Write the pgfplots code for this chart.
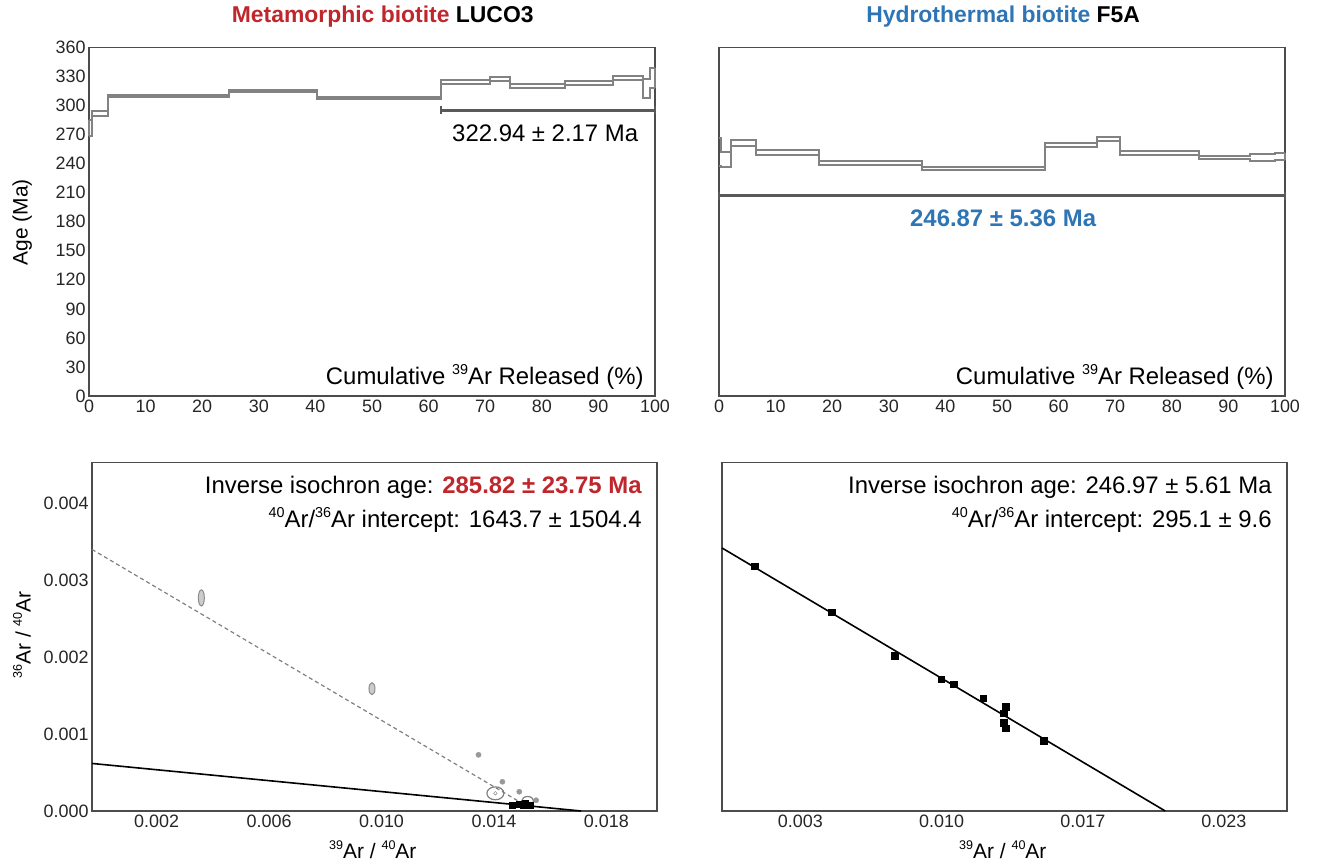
\documentclass[border=0pt]{standalone}
\usepackage{fontspec}
\setmainfont{Liberation Sans}
\usepackage{pgfplots}
\pgfplotsset{compat=1.18}
\definecolor{tred}{RGB}{192,39,45}
\definecolor{tblue}{RGB}{46,117,182}
\definecolor{stepgray}{RGB}{130,130,130}
\newcommand{\tickfont}{\fontsize{18}{20}\selectfont}
\newcommand{\bigfont}{\fontsize{24}{26}\selectfont}
\newcommand{\titlefont}{\fontsize{23}{25}\selectfont\bfseries}
\newcommand{\labfont}{\fontsize{21}{23}\selectfont}
\newcommand{\sups}[1]{\raisebox{0.42em}{\scalebox{0.6}{#1}}}
\pgfplotsset{
  panel/.style={
    scale only axis, anchor=south west,
    axis line style={draw=black!70, line width=1.4bp},
    major tick length=0pt,
    ticklabel style={font=\tickfont, text=black!85},
    /pgf/number format/assume math mode=true,
    scaled ticks=false,
    clip=false,
  },
  steps/.style={stepgray, line width=2bp, const plot mark left, no marks},
}
\begin{document}
\begin{tikzpicture}
% ---------------- top left ----------------
\begin{axis}[panel, at={(89bp,469bp)}, width=566bp, height=348.5bp,
  xmin=0,xmax=100,ymin=0,ymax=360,
  xtick={0,10,...,100}, ytick={0,30,...,360}]
\addplot[steps] coordinates {(0,285) (0.6,294.5) (3.4,311) (24.8,316.3) (40.2,308.5) (62.2,326) (70.8,330) (74.4,322.5) (84.1,325) (92.6,330.5) (97.9,327) (99.2,339) (100,339)};
\addplot[steps] coordinates {(0,269) (0.6,289) (3.4,309) (24.8,314) (40.2,306.8) (62.2,322) (70.8,325.5) (74.4,318.6) (84.1,321) (92.6,326) (97.9,308) (99.2,318) (100,318)};
\addplot[stepgray, line width=2bp] coordinates {(0,269) (0,285)};
\addplot[stepgray, line width=2bp] coordinates {(100,318) (100,339)};
\addplot[black!65, line width=2.5bp, mark=|, mark size=4bp, mark options={line width=2bp}] coordinates {(62.2,295) (100,295)};
\node[font=\bigfont] at (rel axis cs:0.806,0.755) {322.94 ± 2.17 Ma};
\node[font=\bigfont, anchor=east] at (rel axis cs:0.986,0.0545) {Cumulative \sups{39}Ar Released (\%)};
\node[font=\titlefont] at (rel axis cs:0.519,1.0875) {\textcolor{tred}{Metamorphic biotite} LUCO3};
\node[font=\labfont, rotate=90] at (rel axis cs:-0.118,0.499) {Age (Ma)};
\end{axis}
% ---------------- top right ----------------
\begin{axis}[panel, at={(719bp,469bp)}, width=566bp, height=348.5bp,
  xmin=0,xmax=100,ymin=0,ymax=360,
  xtick={0,10,...,100}, ytick=\empty]
\addplot[steps] coordinates {(0,266) (0.3,252) (2.2,264.3) (6.5,254) (17.7,242.7) (35.9,236.5) (57.6,260.9) (66.7,267.8) (70.9,252.7) (84.8,247.8) (93.8,249.6) (98.2,251.3) (100,251.3)};
\addplot[steps] coordinates {(0,238) (0.3,237) (2.2,258) (6.5,248.6) (17.7,238.6) (35.9,233.5) (57.6,256.8) (66.7,263) (70.9,249.3) (84.8,244.4) (93.8,242.7) (98.2,243.7) (100,243.7)};
\addplot[stepgray, line width=2bp] coordinates {(100,243.7) (100,251.3)};
\addplot[black!65, line width=2.5bp, mark=|, mark size=4bp, mark options={line width=2bp}] coordinates {(0,207) (100,207)};
\node[font=\bigfont\bfseries, text=tblue] at (rel axis cs:0.502,0.511) {246.87 ± 5.36 Ma};
\node[font=\bigfont, anchor=east] at (rel axis cs:0.986,0.0545) {Cumulative \sups{39}Ar Released (\%)};
\node[font=\titlefont] at (rel axis cs:0.502,1.0875) {\textcolor{tblue}{Hydrothermal biotite} F5A};
\end{axis}
% ---------------- bottom left ----------------
\begin{axis}[panel, at={(92bp,54bp)}, width=565bp, height=348.5bp,
  xmin=-0.0003,xmax=0.0198,ymin=0,ymax=0.00453,
  xtick={0.002,0.006,0.010,0.014,0.018}, xticklabels={0.002,0.006,0.010,0.014,0.018},
  ytick={0,0.001,0.002,0.003,0.004}, yticklabels={0.000,0.001,0.002,0.003,0.004}]
\addplot[gray, dashed, dash pattern=on 4bp off 3bp, line width=1.2bp] coordinates {(-0.0003,0.0034) (0.0150,0.0001)};
\addplot[black, line width=1.6bp] coordinates {(-0.0003,0.000618) (0.0171,0)};
\addplot[only marks, mark=*, mark size=3bp, mark options={draw=gray!90, fill=gray!40, line width=1bp, yscale=2.7}] coordinates {(0.00359,0.00277)};
\addplot[only marks, mark=*, mark size=3bp, mark options={draw=gray!90, fill=gray!40, line width=1bp, yscale=2.0}] coordinates {(0.00966,0.00159)};
\addplot[only marks, mark=o, mark size=8.5bp, mark options={draw=gray, line width=1.2bp, yscale=0.76}] coordinates {(0.01405,0.00023)};
\addplot[only marks, mark=o, mark size=1.8bp, mark options={draw=gray}] coordinates {(0.01405,0.00023)};
\addplot[only marks, mark=o, mark size=6bp, mark options={draw=gray, line width=1.2bp, yscale=0.75}] coordinates {(0.0152,0.00013)};
\addplot[only marks, mark=*, mark size=2.6bp, mark options={draw=gray!80, fill=gray!80}] coordinates {(0.01345,0.00073) (0.0143,0.00038) (0.0149,0.00025) (0.0155,0.00014)};
\addplot[only marks, mark=square*, mark size=3bp, mark options={black}] coordinates {(0.01465,0.00008) (0.0149,0.00009) (0.01505,0.00007) (0.0151,0.0001) (0.0153,0.00007)};
\node[font=\bigfont, anchor=east] at (rel axis cs:0.979,0.930) {Inverse isochron age: \textcolor{tred}{\bfseries 285.82 ± 23.75 Ma}};
\node[font=\bigfont, anchor=east] at (rel axis cs:0.979,0.835) {\sups{40}Ar/\sups{36}Ar intercept: 1643.7 ± 1504.4};
\node[font=\labfont, rotate=90] at (rel axis cs:-0.124,0.505) {\sups{36}Ar / \sups{40}Ar};
\node[font=\labfont] at (rel axis cs:0.497,-0.112) {\sups{39}Ar / \sups{40}Ar};
\end{axis}
% ---------------- bottom right ----------------
\begin{axis}[panel, at={(722bp,54bp)}, width=565bp, height=348.5bp,
  xmin=-0.00037,xmax=0.02631,ymin=0,ymax=0.00453,
  xtick={0.00333,0.01,0.01667,0.02333}, xticklabels={0.003,0.010,0.017,0.023},
  ytick=\empty]
\addplot[black, line width=1.6bp] coordinates {(-0.00037,0.003419) (0.02056,0)};
\addplot[only marks, mark=square*, mark size=3.3bp, mark options={black}] coordinates {
 (0.00117,0.00318) (0.00480,0.002586) (0.00778,0.002017) (0.00998,0.001714) (0.01056,0.001649)
 (0.01197,0.001466) (0.01303,0.001358) (0.01294,0.001271) (0.01294,0.00115) (0.01303,0.001076) (0.01483,0.000915)};
\node[font=\bigfont, anchor=east] at (rel axis cs:0.979,0.930) {Inverse isochron age: 246.97 ± 5.61 Ma};
\node[font=\bigfont, anchor=east] at (rel axis cs:0.979,0.835) {\sups{40}Ar/\sups{36}Ar intercept: 295.1 ± 9.6};
\node[font=\labfont] at (rel axis cs:0.497,-0.112) {\sups{39}Ar / \sups{40}Ar};
\end{axis}
\pgfresetboundingbox
\path[use as bounding box] (0bp,0bp) rectangle (1317bp,865bp);
\end{tikzpicture}
\end{document}
